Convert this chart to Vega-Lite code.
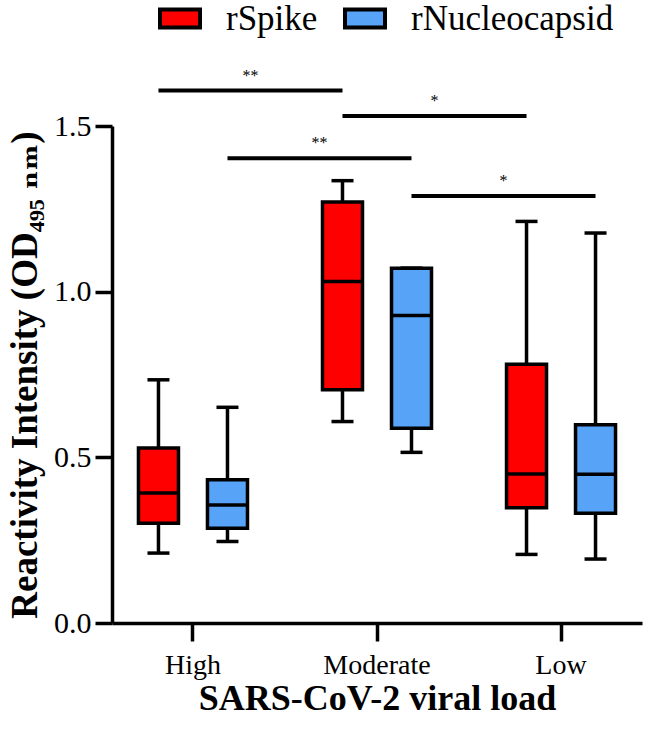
{
  "$schema": "https://vega.github.io/schema/vega-lite/v6.json",
  "width": 530,
  "height": 497,
  "autosize": {"type": "none"},
  "padding": {"left": 112, "top": 126, "right": 4, "bottom": 114},
  "background": "white",
  "config": {
    "view": {"stroke": null},
    "font": "Liberation Serif",
    "axis": {
      "grid": false,
      "domainColor": "black",
      "domainWidth": 3.5,
      "tickColor": "black",
      "tickWidth": 3.5,
      "labelColor": "black",
      "titleColor": "black",
      "labelFont": "Liberation Serif",
      "titleFont": "Liberation Serif, DejaVu Serif",
      "titleFontWeight": "bold"
    },
    "axisX": {"tickSize": 18, "labelFontSize": 28, "labelPadding": 10, "labelAngle": 0, "titleFontSize": 36, "titlePadding": 2},
    "axisY": {"tickSize": 17, "labelFontSize": 30, "labelPadding": 4, "titleFontSize": 37, "titlePadding": 9}
  },
  "datasets": {
    "boxes": [
      {"load": "High", "antigen": "rSpike", "min": 0.211, "q1": 0.301, "median": 0.392, "q3": 0.528, "max": 0.734},
      {"load": "High", "antigen": "rNucleocapsid", "min": 0.246, "q1": 0.286, "median": 0.356, "q3": 0.432, "max": 0.651},
      {"load": "Moderate", "antigen": "rSpike", "min": 0.608, "q1": 0.704, "median": 1.031, "q3": 1.271, "max": 1.335},
      {"load": "Moderate", "antigen": "rNucleocapsid", "min": 0.515, "q1": 0.588, "median": 0.928, "q3": 1.071, "max": 1.071},
      {"load": "Low", "antigen": "rSpike", "min": 0.207, "q1": 0.348, "median": 0.45, "q3": 0.781, "max": 1.212},
      {"load": "Low", "antigen": "rNucleocapsid", "min": 0.193, "q1": 0.331, "median": 0.449, "q3": 0.598, "max": 1.177}
    ],
    "brackets": [
      {"pair": "a", "load": "High", "antigen": "rSpike", "level": 1.607},
      {"pair": "a", "load": "Moderate", "antigen": "rSpike", "level": 1.607},
      {"pair": "b", "load": "Moderate", "antigen": "rSpike", "level": 1.53},
      {"pair": "b", "load": "Low", "antigen": "rSpike", "level": 1.53},
      {"pair": "c", "load": "High", "antigen": "rNucleocapsid", "level": 1.403},
      {"pair": "c", "load": "Moderate", "antigen": "rNucleocapsid", "level": 1.403},
      {"pair": "d", "load": "Moderate", "antigen": "rNucleocapsid", "level": 1.289},
      {"pair": "d", "load": "Low", "antigen": "rNucleocapsid", "level": 1.289}
    ],
    "stars": [
      {"pair": "a", "load": "High", "antigen": "rSpike", "level": 1.607, "label": "**"},
      {"pair": "b", "load": "Moderate", "antigen": "rSpike", "level": 1.53, "label": "*"},
      {"pair": "c", "load": "High", "antigen": "rNucleocapsid", "level": 1.403, "label": "**"},
      {"pair": "d", "load": "Moderate", "antigen": "rNucleocapsid", "level": 1.289, "label": "*"}
    ]
  },
  "encoding": {
    "x": {
      "field": "load",
      "type": "nominal",
      "sort": ["High", "Moderate", "Low"],
      "scale": {"paddingInner": 0.25, "paddingOuter": 0.065},
      "title": "SARS-CoV-2 viral load"
    },
    "xOffset": {
      "field": "antigen",
      "type": "nominal",
      "sort": ["rSpike", "rNucleocapsid"],
      "scale": {"paddingInner": 0, "paddingOuter": 0}
    }
  },
  "layer": [
    {
      "data": {"name": "boxes"},
      "mark": {"type": "rule", "color": "black", "strokeWidth": 3.5, "opacity": 1},
      "encoding": {
        "y": {"field": "min", "type": "quantitative", "scale": {"domain": [0, 1.5], "nice": false}, "axis": {"values": [0, 0.5, 1, 1.5], "format": ".1f"}, "title": "Reactivity Intensity (OD₄₉₅ ₙₘ)"},
        "y2": {"field": "max"}
      }
    },
    {
      "data": {"name": "boxes"},
      "mark": {"type": "tick", "color": "black", "size": 22, "thickness": 3.5, "orient": "horizontal", "opacity": 1},
      "encoding": {
        "y": {"field": "min", "type": "quantitative", "scale": {"domain": [0, 1.5], "nice": false}, "axis": {"values": [0, 0.5, 1, 1.5], "format": ".1f"}, "title": "Reactivity Intensity (OD₄₉₅ ₙₘ)"}
      }
    },
    {
      "data": {"name": "boxes"},
      "mark": {"type": "tick", "color": "black", "size": 22, "thickness": 3.5, "orient": "horizontal", "opacity": 1},
      "encoding": {
        "y": {"field": "max", "type": "quantitative", "scale": {"domain": [0, 1.5], "nice": false}, "axis": {"values": [0, 0.5, 1, 1.5], "format": ".1f"}, "title": "Reactivity Intensity (OD₄₉₅ ₙₘ)"}
      }
    },
    {
      "data": {"name": "boxes"},
      "mark": {"type": "bar", "width": 40, "stroke": "black", "strokeWidth": 3.5, "opacity": 1},
      "encoding": {
        "y": {"field": "q1", "type": "quantitative", "scale": {"domain": [0, 1.5], "nice": false}, "axis": {"values": [0, 0.5, 1, 1.5], "format": ".1f"}, "title": "Reactivity Intensity (OD₄₉₅ ₙₘ)"},
        "y2": {"field": "q3"},
        "fill": {
          "field": "antigen",
          "type": "nominal",
          "sort": ["rSpike", "rNucleocapsid"],
          "scale": {"domain": ["rSpike", "rNucleocapsid"], "range": ["#FF0000", "#57A3F7"]},
          "legend": {
            "orient": "none",
            "direction": "horizontal",
            "legendX": 46,
            "legendY": -129.5,
            "title": null,
            "padding": 0,
            "symbolType": "M-1,-0.45H1V0.45H-1Z",
            "symbolSize": 1600,
            "symbolStrokeColor": "black",
            "symbolStrokeWidth": 4,
            "symbolOpacity": 1,
            "labelFont": "Liberation Serif",
            "labelFontSize": 35,
            "labelColor": "black",
            "labelOffset": 24,
            "labelLimit": 0,
            "columnPadding": 19
          }
        }
      }
    },
    {
      "data": {"name": "boxes"},
      "mark": {"type": "tick", "color": "black", "size": 40, "thickness": 3.5, "orient": "horizontal", "opacity": 1},
      "encoding": {
        "y": {"field": "median", "type": "quantitative", "scale": {"domain": [0, 1.5], "nice": false}, "axis": {"values": [0, 0.5, 1, 1.5], "format": ".1f"}, "title": "Reactivity Intensity (OD₄₉₅ ₙₘ)"}
      }
    },
    {
      "data": {"name": "brackets"},
      "mark": {"type": "line", "color": "black", "strokeWidth": 4, "strokeCap": "butt"},
      "encoding": {
        "y": {"field": "level", "type": "quantitative", "scale": {"domain": [0, 1.5], "nice": false}, "axis": {"values": [0, 0.5, 1, 1.5], "format": ".1f"}, "title": "Reactivity Intensity (OD₄₉₅ ₙₘ)"},
        "detail": {"field": "pair"}
      }
    },
    {
      "data": {"name": "stars"},
      "mark": {"type": "text", "color": "black", "fontSize": 16, "align": "center", "baseline": "alphabetic", "dx": 92, "dy": -10},
      "encoding": {
        "y": {"field": "level", "type": "quantitative", "scale": {"domain": [0, 1.5], "nice": false}, "axis": {"values": [0, 0.5, 1, 1.5], "format": ".1f"}, "title": "Reactivity Intensity (OD₄₉₅ ₙₘ)"},
        "text": {"field": "label"}
      }
    }
  ]
}
